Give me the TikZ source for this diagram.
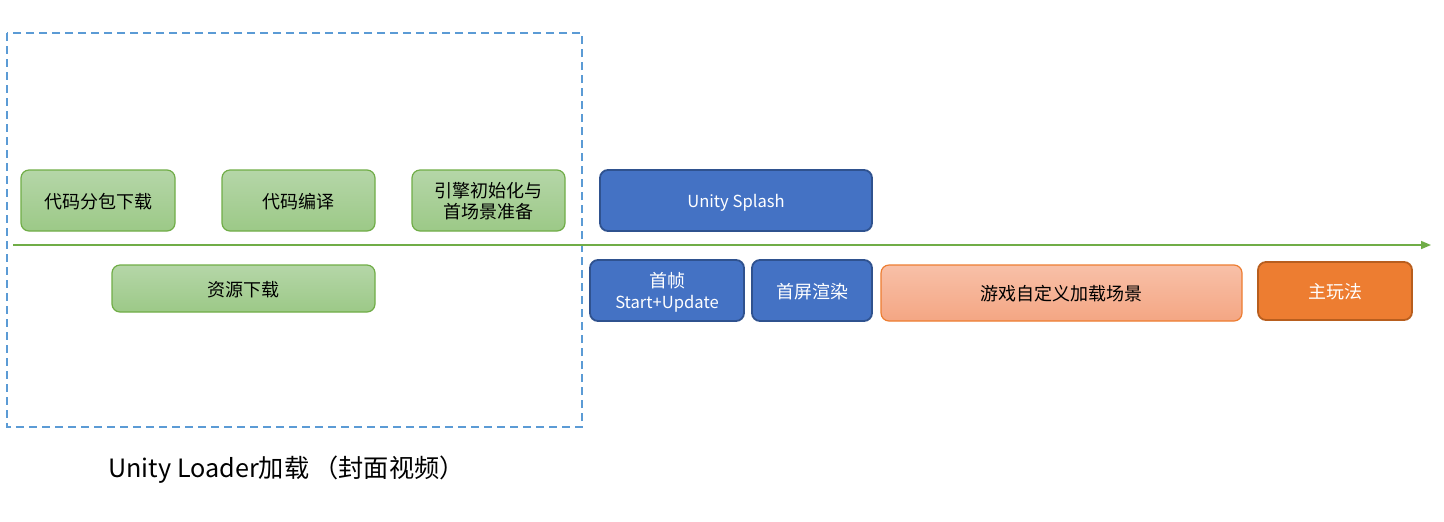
\documentclass[tikz,border=0pt]{standalone}
\usepackage{fontspec}
\setmainfont{Noto Sans CJK SC}
\usetikzlibrary{arrows.meta}
\definecolor{gline}{HTML}{70AD47}
\definecolor{gtop}{HTML}{B5D6A8}
\definecolor{gbot}{HTML}{9CC987}
\definecolor{bfill}{HTML}{4472C4}
\definecolor{bline}{HTML}{2F528F}
\definecolor{otop}{HTML}{F8C0A8}
\definecolor{obot}{HTML}{F4A683}
\definecolor{oline}{HTML}{ED7D31}
\definecolor{ofill}{HTML}{ED7D31}
\definecolor{odark}{HTML}{B85E1E}
\definecolor{dashblue}{HTML}{5B9BD5}
\newcommand{\lat}[1]{{\fontsize{8.3}{10.5}\selectfont #1}}
\tikzset{
  box/.style={rounded corners=4pt, line width=0.6pt, align=center, inner sep=0pt, font=\fontsize{9}{10.5}\selectfont},
  gbox/.style={box, draw=gline, top color=gtop, bottom color=gbot, text=black},
  bbox/.style={box, draw=bline, fill=bfill, line width=0.9pt, text=white},
  obox/.style={box, draw=oline, top color=otop, bottom color=obot, text=black},
  mbox/.style={box, draw=odark, fill=ofill, line width=0.9pt, text=white},
}
\newcommand{\bx}[7]{% style, name, x1, y1, x2, y2, text
  \node[#1, minimum width={(#5-#3)*0.5pt}, minimum height={(#6-#4)*0.5pt}, text depth=0pt] (#2) at ({(#3+#5)/2*0.5pt}, {-(#4+#6)/2*0.5pt}) {#7};}
\begin{document}
\begin{tikzpicture}
\useasboundingbox (0,0) rectangle (722pt,-260.5pt);
\draw[dashblue, dash pattern=on 4pt off 2.5pt, line width=0.7pt] (3.5pt,-16.5pt) rectangle (291pt,-213.5pt);
\coordinate (tstart) at (6.5pt,-122.5pt);
\coordinate (tend) at (715.5pt,-122.5pt);
\draw[gline, line width=0.8pt, -{Triangle[length=5pt,width=4pt]}] (tstart) -- (tend);
\bx{gbox}{a}{21}{170}{175}{231}{代码分包下载}
\bx{gbox}{b}{222}{170}{375}{231}{代码编译}
\bx{gbox}{c}{412}{170}{565}{231}{引擎初始化与\\首场景准备}
\bx{gbox}{d}{112}{265}{375}{312}{资源下载}
\bx{bbox}{e}{600}{170}{872}{231}{\lat{Unity Splash}}
\bx{bbox}{f}{590}{260}{744}{321}{首帧\\\lat{Start+Update}}
\bx{bbox}{g}{752}{260}{872}{321}{首屏渲染}
\bx{obox}{h}{881}{265}{1242}{321}{游戏自定义加载场景}
\bx{mbox}{i}{1258}{262}{1412}{320}{主玩法}
\node[anchor=west, inner sep=0pt, font=\fontsize{12.6}{14}\selectfont] (cap) at (54pt,-235pt) {Unity Loader加载\,（封面视频）};
\end{tikzpicture}
\end{document}
